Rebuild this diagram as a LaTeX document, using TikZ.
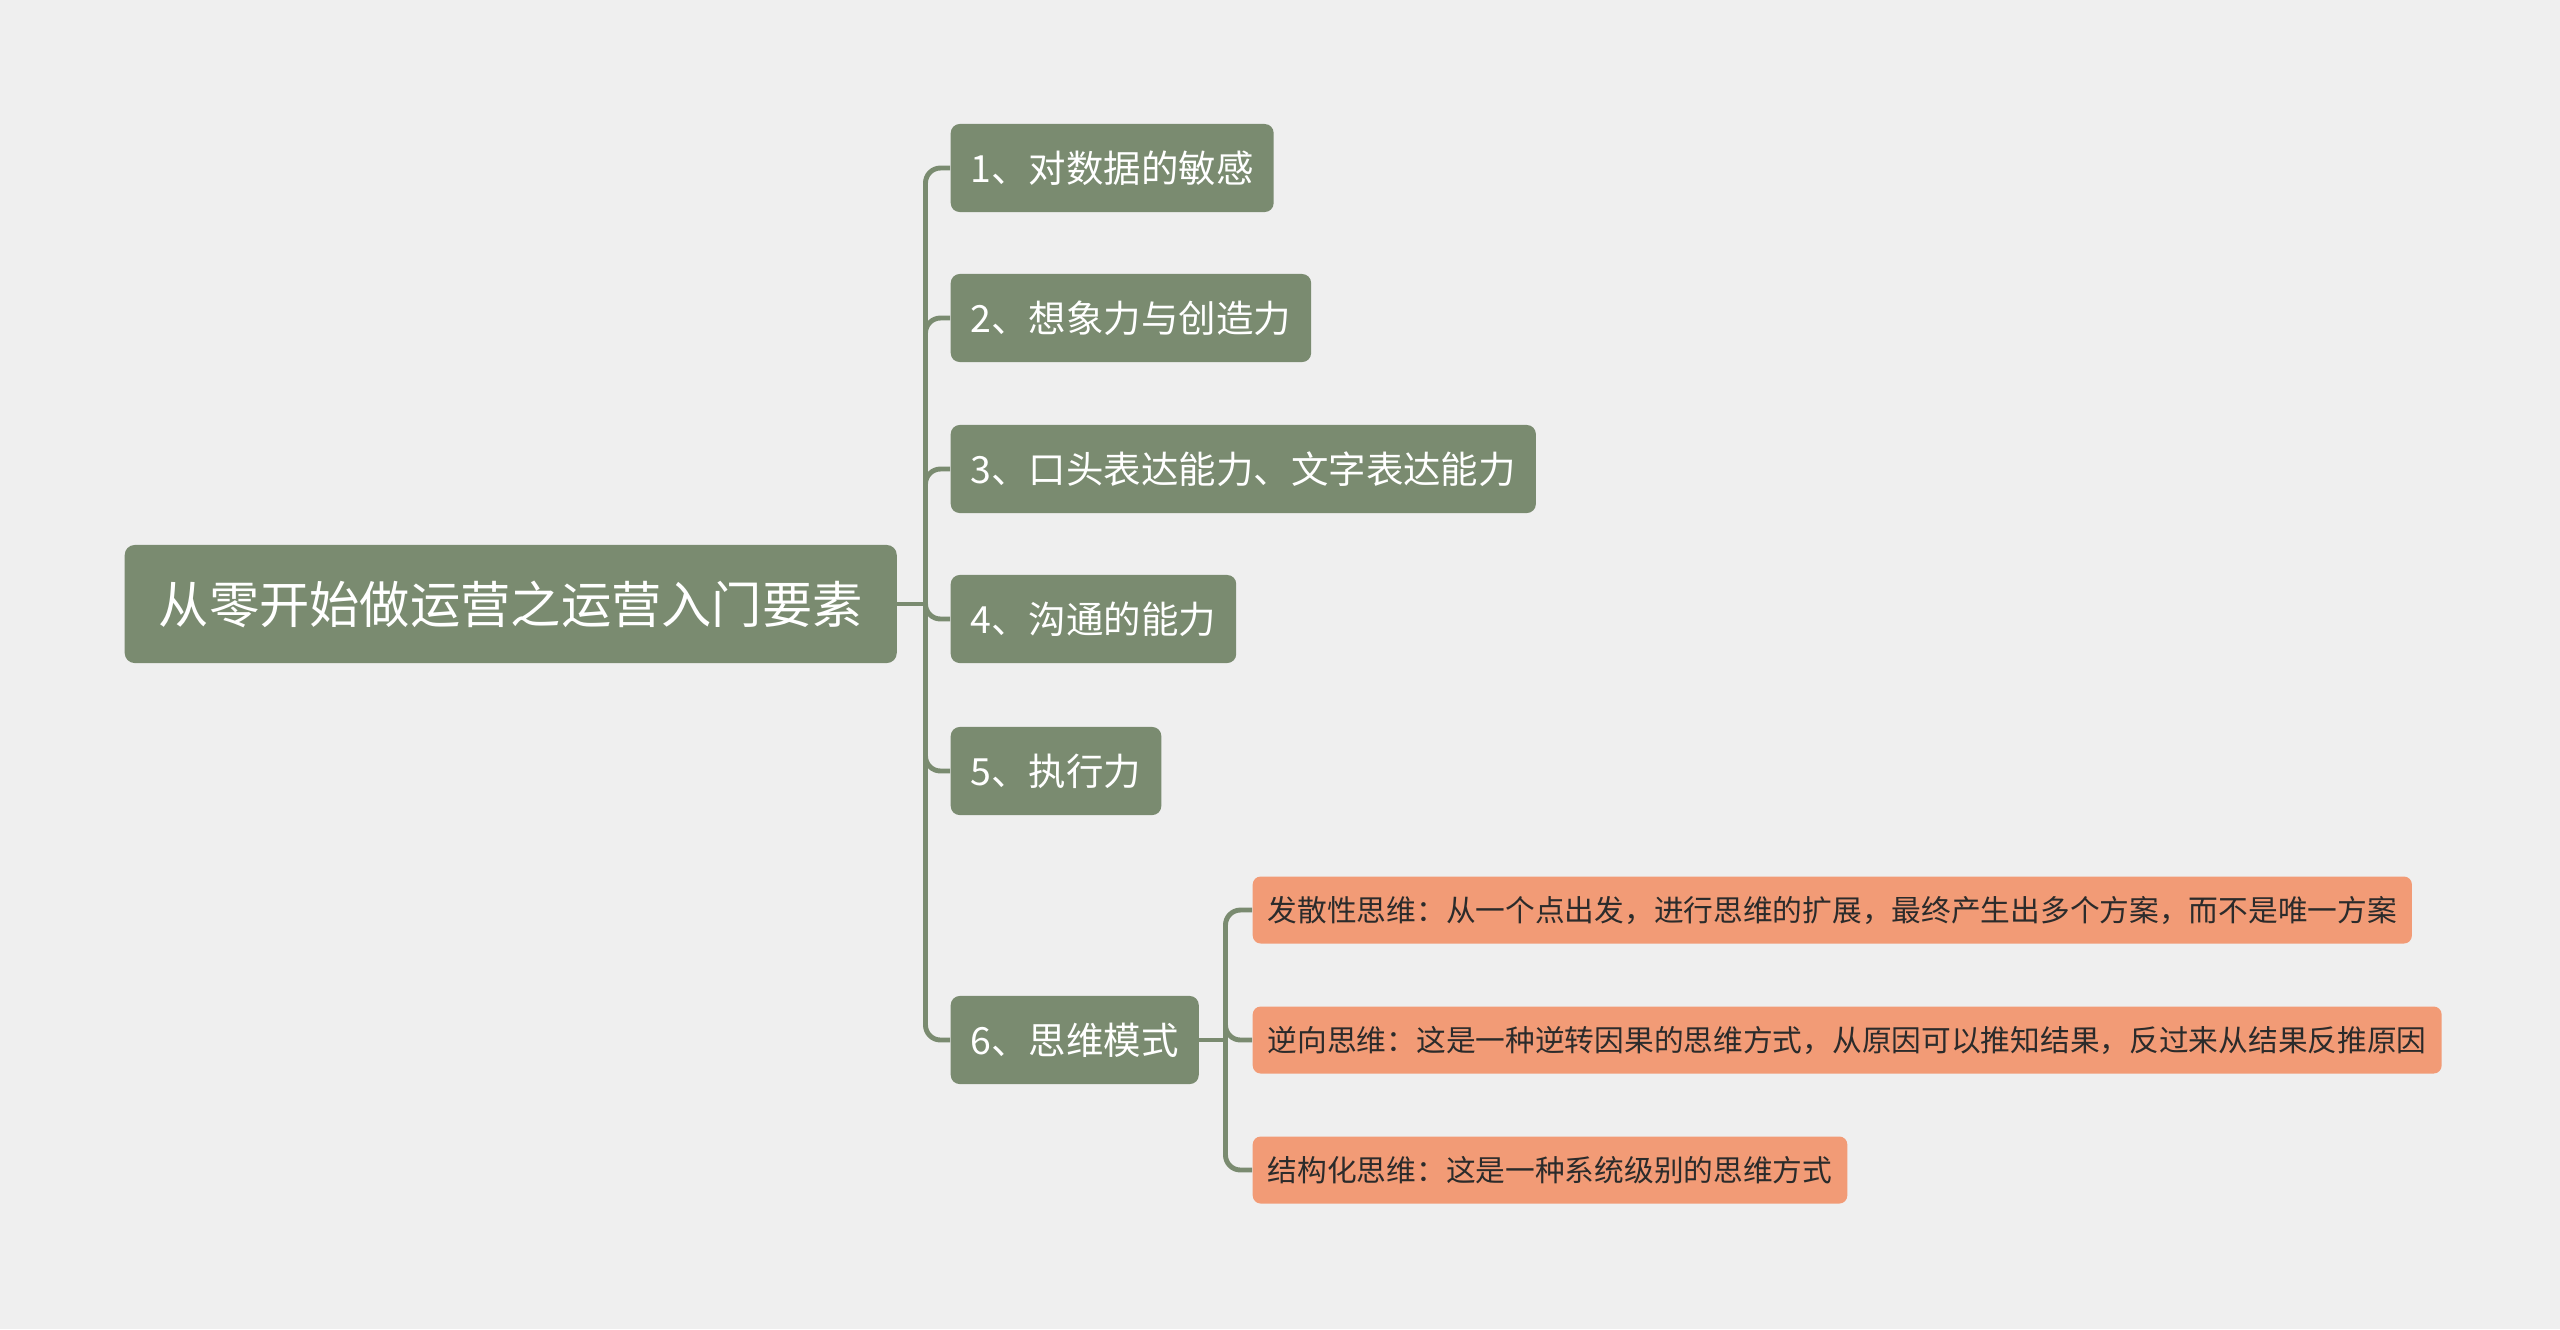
\documentclass[tikz,border=0pt]{standalone}
\usepackage{fontspec}
\setmainfont{Noto Sans CJK SC}
\definecolor{sage}{HTML}{7A8B70}
\definecolor{salmon}{HTML}{F29B76}
\definecolor{paper}{HTML}{EFEFEF}
\definecolor{ink}{HTML}{2B2B2B}

\begin{document}
\begin{tikzpicture}
[x=0.01cm, y=-0.01cm,
root/.style={rectangle, rounded corners=0.1cm, fill=sage, text=white, anchor=west, inner xsep=0.34cm, minimum height=1.18cm, font=\fontsize{14.3}{16}\selectfont},
topic/.style={rectangle, rounded corners=0.09cm, fill=sage, text=white, anchor=west, inner xsep=0.2cm, minimum height=0.88cm, font=\fontsize{10.65}{12}\selectfont},
sub/.style={rectangle, rounded corners=0.08cm, fill=salmon, text=ink, anchor=west, inner xsep=0.15cm, minimum height=0.67cm, font=\fontsize{8.45}{10}\selectfont},
link/.style={draw=sage, line width=1.4pt, rounded corners=0.15cm}
]

% background
\fill[paper] (0,0) rectangle (2560,1329);
\useasboundingbox (0,0) rectangle (2560,1329);

\node[root] (root) at (124,604) {从零开始做运营之运营入门要素};

\node[topic] (t1) at (950,168) {1、对数据的敏感};
\node[topic] (t2) at (950,318) {2、想象力与创造力};
\node[topic] (t3) at (950,469) {3、口头表达能力、文字表达能力};
\node[topic] (t4) at (950,619) {4、沟通的能力};
\node[topic] (t5) at (950,771) {5、执行力};
\node[topic] (t6) at (950,1040) {6、思维模式};

\node[sub] (s1) at (1252,910) {发散性思维：从一个点出发，进行思维的扩展，最终产生出多个方案，而不是唯一方案};
\node[sub] (s2) at (1252,1040) {逆向思维：这是一种逆转因果的思维方式，从原因可以推知结果，反过来从结果反推原因};
\node[sub] (s3) at (1252,1170) {结构化思维：这是一种系统级别的思维方式};

% connectors
\path (root.east) ++(28,0) coordinate (hub);
\draw[link] (root.east) -- (hub);
\foreach \t in {t1,t2,t3,t4,t5,t6}
  \draw[link] (hub) |- (\t.west);

\path (t6.east) ++(26,0) coordinate (hubb);
\draw[link] (t6.east) -- (hubb);
\foreach \s in {s1,s2,s3}
  \draw[link] (hubb) |- (\s.west);
\end{tikzpicture}
\end{document}
